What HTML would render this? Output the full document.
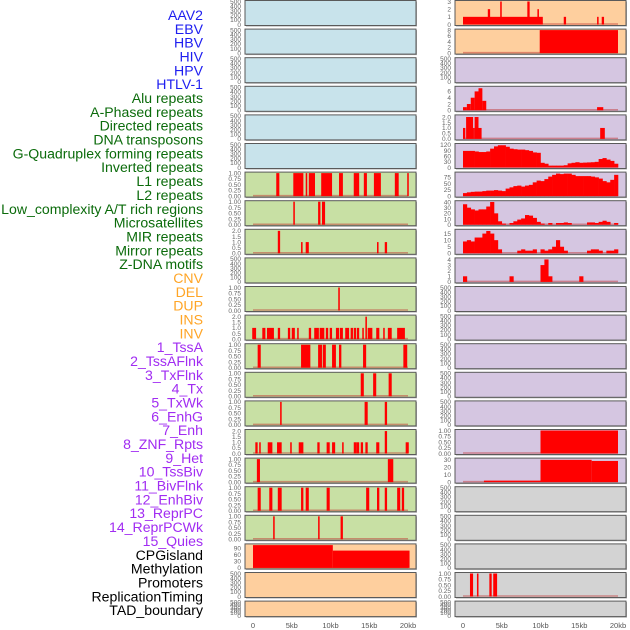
<!DOCTYPE html>
<html><head><meta charset="utf-8"><style>
html,body{margin:0;padding:0;background:#fff;}
svg{display:block;font-family:"Liberation Sans",sans-serif;}
</style></head><body>
<svg id="chart" width="630" height="630" viewBox="0 0 630 630" xmlns="http://www.w3.org/2000/svg"></svg>
<script>
// ---------- data ----------
const trackLabels = ["AAV2","EBV","HBV","HIV","HPV","HTLV-1","Alu repeats","A-Phased repeats","Directed repeats","DNA transposons","G-Quadruplex forming repeats","Inverted repeats","L1 repeats","L2 repeats","Low_complexity A/T rich regions","Microsatellites","MIR repeats","Mirror repeats","Z-DNA motifs","CNV","DEL","DUP","INS","INV","1_TssA","2_TssAFlnk","3_TxFlnk","4_Tx","5_TxWk","6_EnhG","7_Enh","8_ZNF_Rpts","9_Het","10_TssBiv","11_BivFlnk","12_EnhBiv","13_ReprPC","14_ReprPCWk","15_Quies","CPGisland","Methylation","Promoters","ReplicationTiming","TAD_boundary"];
const labelGroups = ["virus","virus","virus","virus","virus","virus","repeat","repeat","repeat","repeat","repeat","repeat","repeat","repeat","repeat","repeat","repeat","repeat","repeat","sv","sv","sv","sv","sv","chrom","chrom","chrom","chrom","chrom","chrom","chrom","chrom","chrom","chrom","chrom","chrom","chrom","chrom","chrom","other","other","other","other","other"];
const xTickKb = [0,5,10,15,20];
const xTickLabels = ["0","5kb","10kb","15kb","20kb"];

// left column events [startKb, endKb, value]
const leftL1 = [[3.0,3.4,1],[5.2,6.5,1],[6.8,7.0,1],[7.2,8.0,1],[8.8,10.2,1],[11.1,11.6,1],[13.0,13.7,1],[14.3,14.7,1],[15.6,16.5,1],[18.3,18.8,1],[19.9,20.1,1]];
const leftLowComplexity = [[5.2,5.4,1],[8.4,8.7,1],[8.9,9.3,1]];
const leftMIR = [[3.2,3.5,2],[6.2,6.4,1],[6.8,7.2,1],[16.0,16.2,1],[17.0,17.3,1]];
const leftDEL = [[11.0,11.2,1]];
const leftINS = [[-0.1,0.4,1],[1.2,1.6,1],[1.8,2.7,1],[3.2,3.5,1],[4.5,4.8,1],[5.0,5.4,1],[5.7,5.9,1],[7.2,7.5,1],[7.9,8.5,1],[8.6,9.2,1],[9.4,9.7,1],[9.9,10.2,1],[10.7,11.1,1],[11.2,11.6,1],[11.9,12.4,1],[12.6,12.9,1],[13.0,13.3,1],[13.4,13.7,1],[14.1,14.3,1],[14.5,14.7,2],[14.8,15.4,1],[15.9,16.3,1],[16.8,17.0,1],[17.4,17.9,1],[18.6,19.6,1]];
const leftTssA = [[0.6,1.0,1],[6.2,7.4,1],[8.4,8.9,1],[9.0,9.4,1],[10.2,10.7,1],[11.1,11.4,1],[14.2,14.6,1],[19.4,19.9,1]];
const leftTssAFlnk = [[13.9,14.3,1],[15.5,15.9,1],[17.5,17.9,1]];
const leftTxFlnk = [[3.5,3.7,1],[14.4,14.8,1],[17.0,17.3,1]];
const leftTx = [[0.3,0.6,1],[0.8,1.0,1],[1.9,2.5,1],[3.1,3.7,1],[4.8,5.0,1],[5.9,6.5,1],[8.3,8.6,1],[9.5,9.9,1],[10.2,10.6,1],[11.5,11.7,1],[13.0,13.4,1],[13.4,13.7,1],[13.9,14.2,1],[14.5,14.8,1],[15.9,16.3,1],[17.0,17.3,2],[19.7,20.1,1]];
const leftTxWk = [[0.5,0.9,1],[17.4,18.1,1]];
const leftEnhG = [[0.6,1.0,1],[2.1,2.5,1],[3.2,3.7,1],[6.2,6.5,1],[6.8,7.2,1],[9.5,9.9,1],[14.6,15.0,1],[16.0,16.3,1],[17.0,17.3,1],[18.6,19.0,1],[19.2,19.5,1]];
const leftEnh = [[2.6,2.8,1],[8.4,8.6,1],[11.3,11.6,1]];
const leftCpG = [[0,10.3,104],[10.3,20.2,79]];

// right column events
const rightAAV2 = [[0,10.3,1],[3.2,3.5,2],[4.8,5.0,3],[8.3,8.6,3],[9.6,9.8,2],[13.0,13.3,1],[17.3,17.5,1],[17.9,18.2,1]];
const rightEBV = [[9.9,20,8]];
const rightAlu = [[0,0.5,1],[0.5,1,2],[1,1.5,4],[1.5,2,6],[2,2.5,7],[2.5,3,3],[17.3,18.1,1]];
const rightDirected = [[0,0.3,1],[0.4,1.3,2],[1.3,1.5,1],[1.5,2.0,2],[2.0,2.4,1],[17.7,18.3,1]];
const rightTssA = [[10,20,1]];
const rightTssAFlnk = [[2.7,10,2],[10,16.6,30],[16.6,20,28.5]];
const rightPromoters = [[0.9,1.3,1],[1.8,2.0,1],[3.4,3.7,1],[3.9,4.4,1]];
// right column histograms (0.5 kb bins from 0 to 20 kb)
const binsGQuad = [88,88,88,85,82,82,85,100,112,118,118,110,100,97,95,95,92,88,80,78,25,20,10,10,10,10,12,22,25,28,25,26,27,28,30,45,50,42,35,20];
const binsInverted = [12,15,17,18,18,20,22,22,24,22,20,30,35,40,42,38,42,45,55,62,60,68,78,85,90,88,90,90,85,80,80,80,80,78,75,70,60,55,65,85];
const binsL1 = [36,30,27,25,27,27,32,40,20,6,2,0,3,6,9,11,17,16,12,5,2,0,3,0,3,3,4,3,0,0,0,0,4,4,3,5,7,5,0,3];
const binsL2 = [9,10,9,12,12,15,17,15,10,3,0,0,0,0,2,3,2,2,3,0,3,2,3,5,10,5,2,0,0,0,0,0,2,3,3,2,0,2,2,3];
const binsLowComplexity = [1,0,0,0,0,0,0,0,0,0,0,0,1,0,0,0,0,0,0,0,3,4,1,0,0,0,0,0,0,0,1,0,0,0,0,0,0,0,0,0];

const ticksEmpty = [0,100,200,300,400,500];
const ticksUnit = [0,0.25,0.5,0.75,1];
const ticksTwo = [0,0.5,1,1.5,2];

// ---------- layout ----------
const svg = document.getElementById('chart');
const NS = 'http://www.w3.org/2000/svg';
const colors = {blue:'#c8e3eb', green:'#c8e0a4', orange:'#fecf9e', purple:'#d5c6e1', gray:'#d3d3d3'};
const labelColors = {virus:'#1e1ef0', repeat:'#0b6b0b', sv:'#ffa526', chrom:'#a12cf2', other:'#000'};

function mk(tag, attrs, parent){
  const e = document.createElementNS(NS, tag);
  for (const k in attrs) e.setAttribute(k, attrs[k]);
  (parent||svg).appendChild(e);
  return e;
}
function fmt(v, dec){ return dec ? v.toFixed(dec) : String(v); }

// track labels
trackLabels.forEach((t,i)=>{
  const el = mk('text',{x:203,y:15+i*13.84+5,'text-anchor':'end','font-size':'14.1',fill:labelColors[labelGroups[i]]});
  
  
  el.textContent = t;
});

const E = (bg)=>({bg, ticks:ticksEmpty, ymax:500, dec:0});
const rows = [
  [E('blue'), {bg:'orange', ticks:[0,1,2,3], ymax:3, dec:0, ev:rightAAV2}],
  [E('blue'), {bg:'orange', ticks:[0,2,4,6,8], ymax:8, dec:0, ev:rightEBV}],
  [E('blue'), E('purple')],
  [E('blue'), {bg:'purple', ticks:[0,2,4,6], ymax:7.3, dec:0, ev:rightAlu}],
  [E('blue'), {bg:'purple', ticks:ticksTwo, ymax:2.1, dec:1, ev:rightDirected}],
  [E('blue'), {bg:'purple', ticks:[0,30,60,90,120], ymax:122, dec:0, bins:binsGQuad}],
  [{bg:'green', ticks:ticksUnit, ymax:1, dec:2, ev:leftL1}, {bg:'purple', ticks:[0,25,50,75], ymax:92, dec:0, bins:binsInverted}],
  [{bg:'green', ticks:ticksUnit, ymax:1, dec:2, ev:leftLowComplexity}, {bg:'purple', ticks:[0,10,20,30,40], ymax:40.5, dec:0, bins:binsL1}],
  [{bg:'green', ticks:ticksTwo, ymax:2.05, dec:1, ev:leftMIR}, {bg:'purple', ticks:[0,5,10,15], ymax:17.5, dec:0, bins:binsL2}],
  [E('green'), {bg:'purple', ticks:[0,1,2,3,4], ymax:4.1, dec:0, bins:binsLowComplexity}],
  [{bg:'green', ticks:ticksUnit, ymax:1, dec:2, ev:leftDEL}, E('purple')],
  [{bg:'green', ticks:ticksTwo, ymax:2.05, dec:1, ev:leftINS}, E('purple')],
  [{bg:'green', ticks:ticksUnit, ymax:1, dec:2, ev:leftTssA}, E('purple')],
  [{bg:'green', ticks:ticksUnit, ymax:1, dec:2, ev:leftTssAFlnk}, E('purple')],
  [{bg:'green', ticks:ticksUnit, ymax:1, dec:2, ev:leftTxFlnk}, E('purple')],
  [{bg:'green', ticks:ticksTwo, ymax:2.05, dec:1, ev:leftTx}, {bg:'purple', ticks:ticksUnit, ymax:1, dec:2, ev:rightTssA}],
  [{bg:'green', ticks:ticksUnit, ymax:1, dec:2, ev:leftTxWk}, {bg:'purple', ticks:[0,10,20,30], ymax:31, dec:0, ev:rightTssAFlnk}],
  [{bg:'green', ticks:ticksUnit, ymax:1, dec:2, ev:leftEnhG}, E('gray')],
  [{bg:'green', ticks:ticksUnit, ymax:1, dec:2, ev:leftEnh}, E('gray')],
  [{bg:'orange', ticks:[0,30,60,90], ymax:105, dec:0, ev:leftCpG}, E('gray')],
  [E('orange'), {bg:'gray', ticks:ticksUnit, ymax:1, dec:2, ev:rightPromoters}],
  [E('orange'), E('gray')]
];

const cols = [{x0:245, x1:416, zero:253, tickX:241}, {x0:455, x1:626, zero:463, tickX:451}];
const pxPerKb = 7.75;

rows.forEach((row, ri)=>{
  const top = 0.5 + ri*28.6;
  const h = ri === rows.length-1 ? 15.5 : 25;
  row.forEach((spec, ci)=>{
    const c = cols[ci];
    const xs = kb => c.zero + kb*pxPerKb;
    const ys = v => (top + h - 1) - (v/spec.ymax)*(h - 2);
    const g = mk('g',{});
    
    
    mk('rect',{x:c.x0+1,y:top+1,width:c.x1-c.x0,height:h,fill:'#aaa'},g);
    mk('rect',{x:c.x0,y:top,width:c.x1-c.x0,height:h,fill:colors[spec.bg],stroke:'#5a5a5a','stroke-width':1},g);
    spec.ticks.forEach(t=>{
      const tx = mk('text',{x:c.tickX,y:ys(t)+2.3,'text-anchor':'end','font-size':'6.5',fill:'#666'},g);
      
      
      tx.textContent = fmt(t, spec.dec);
    });
    const hasData = spec.ev || spec.bins;
    if (hasData){
      const bl = mk('line',{x1:xs(0),x2:xs(20),y1:ys(0)-0.5,y2:ys(0)-0.5,stroke:'rgba(190,40,40,0.45)','stroke-width':1.5},g);
      
      
    }
    if (spec.ev){
      spec.ev.forEach(e=>{
        const r = mk('rect',{x:xs(e[0]),y:ys(e[2]),width:Math.max(1.5,xs(e[1])-xs(e[0])),height:ys(0)-ys(e[2]),fill:'#ff0000'},g);
        
        
      });
    }
    if (spec.bins){
      spec.bins.forEach((v,bi)=>{
        if (v<=0) return;
        const r = mk('rect',{x:xs(bi*0.5),y:ys(v),width:xs(0.5)-xs(0)+0.3,height:ys(0)-ys(v),fill:'#ff0000'},g);
        
        
      });
    }
  });
});

cols.forEach((c,ci)=>{
  xTickKb.forEach((k,i)=>{
    const t = mk('text',{x:c.zero + k*pxPerKb,y:628,'text-anchor':'middle','font-size':'7.5',fill:'#555'});
    
    
    t.textContent = xTickLabels[i];
  });
});
</script>
</body></html>
